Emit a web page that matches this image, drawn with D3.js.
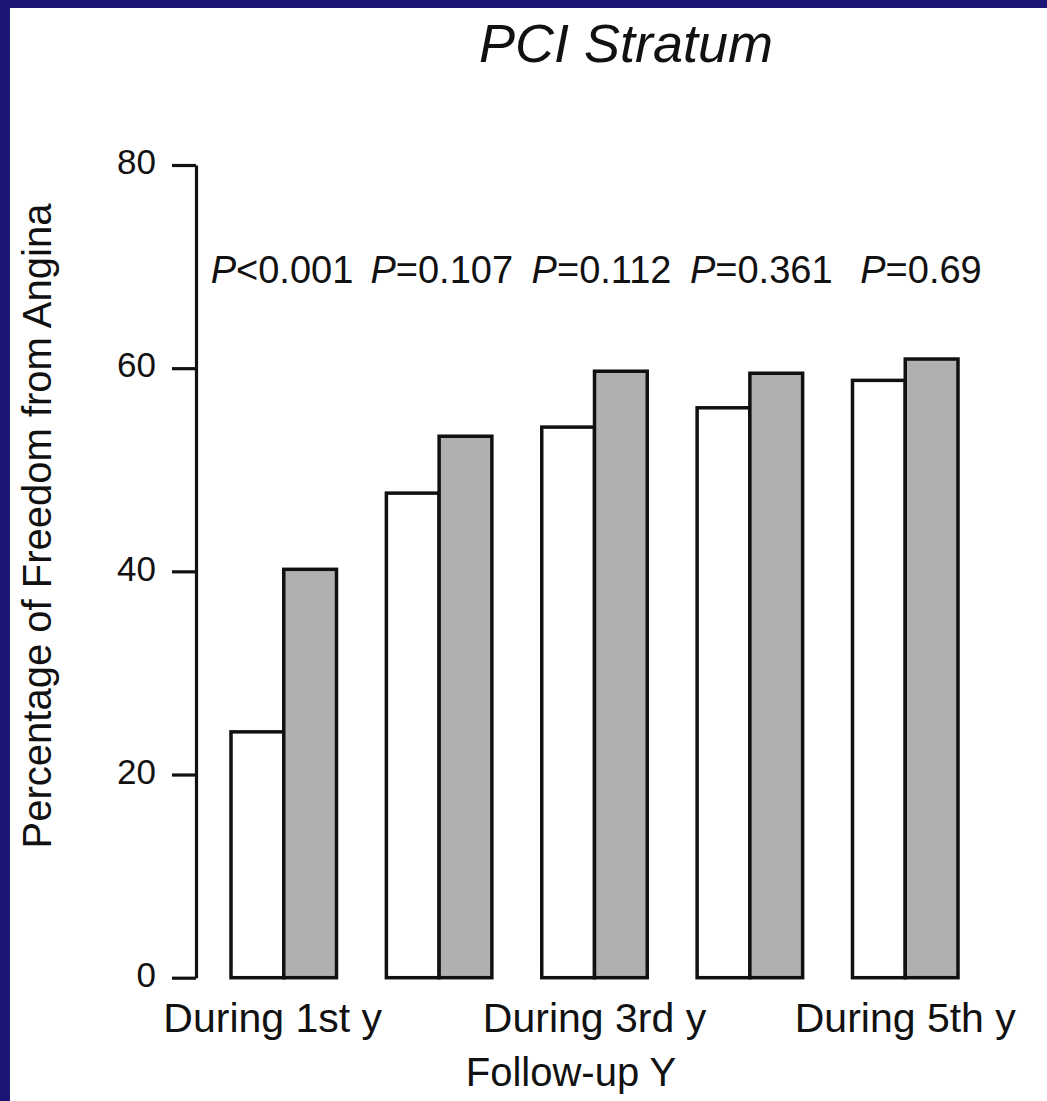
<!DOCTYPE html>
<html>
<head>
<meta charset="utf-8">
<script src="https://cdn.jsdelivr.net/npm/d3@7"></script>
<style>
  html, body { margin: 0; padding: 0; background: #ffffff; }
  svg { display: block; }
  text { font-family: "Liberation Sans", Arial, Helvetica, sans-serif; fill: #111; }
</style>
</head>
<body>
<svg id="chart" width="1047" height="1101"></svg>
<script>
// Follow-up years and the label shown under each group (blank where omitted)
const years = [1, 2, 3, 4, 5];
const yearLabels = ["During 1st y", "", "During 3rd y", "", "During 5th y"];

// Percentage free from angina, per year, for the two treatment arms
const openArm = [24.2, 47.7, 54.2, 56.1, 58.8];   // white bars
const shadedArm = [40.2, 53.3, 59.7, 59.5, 60.9]; // gray bars

// P values printed above each pair
const pLabels = [
  { rel: "<", val: "0.001" },
  { rel: "=", val: "0.107" },
  { rel: "=", val: "0.112" },
  { rel: "=", val: "0.361" },
  { rel: "=", val: "0.69" }
];

const yTicks = [0, 20, 40, 60, 80];

const svg = d3.select("#chart");
const W = 1047, H = 1101;

// navy frame along the top and left edges
svg.append("rect").attr("x", 0).attr("y", 0).attr("width", W).attr("height", H).attr("fill", "#ffffff");
svg.append("rect").attr("x", 0).attr("y", 0).attr("width", W).attr("height", 8).attr("fill", "#1b1673");
svg.append("rect").attr("x", 0).attr("y", 0).attr("width", 10).attr("height", H).attr("fill", "#1b1673");

const axisX = 196;
const y = d3.scaleLinear().domain([0, 80]).range([977.7, 165]);

const x0 = d3.scaleBand().domain(years).range([231, 958]).paddingInner(0.321).paddingOuter(0);
const x1 = d3.scaleBand().domain(["open", "shaded"]).range([0, x0.bandwidth()]).padding(0);

// annotation row above the bars
const xP = d3.scalePoint().domain(years).range([282, 921]);

// y axis
const yAxis = d3.axisLeft(y).tickValues(yTicks).tickSize(24).tickSizeOuter(0).tickPadding(16);
const gy = svg.append("g").attr("transform", `translate(${axisX},0)`).call(yAxis);
gy.select(".domain").attr("stroke", "#111").attr("stroke-width", 3.2);
gy.selectAll(".tick line").attr("stroke", "#111").attr("stroke-width", 3.2);
gy.selectAll(".tick text")
  .attr("font-size", 35)
  .attr("font-family", "'Liberation Sans', Arial, Helvetica, sans-serif")
  .attr("fill", "#111")
  .attr("dy", "0.25em");

// bars
const groups = svg.append("g").selectAll("g")
  .data(years.map((yr, i) => ({ yr, open: openArm[i], shaded: shadedArm[i] })))
  .join("g")
  .attr("transform", d => `translate(${x0(d.yr)},0)`);

groups.selectAll("rect")
  .data(d => [{ key: "open", v: d.open }, { key: "shaded", v: d.shaded }])
  .join("rect")
  .attr("x", d => x1(d.key))
  .attr("y", d => y(d.v))
  .attr("width", x1.bandwidth())
  .attr("height", d => y(0) - y(d.v))
  .attr("fill", d => d.key === "open" ? "#ffffff" : "#b0b0b0")
  .attr("stroke", "#111")
  .attr("stroke-width", 3.5);

// category labels
svg.append("g").selectAll("text")
  .data(years.map((yr, i) => ({ yr, label: yearLabels[i] })).filter(d => d.label))
  .join("text")
  .attr("x", d => x0(d.yr) + x0.bandwidth() / 2 - (d.yr === 1 ? 11 : 0))
  .attr("y", 1032)
  .attr("text-anchor", "middle")
  .attr("font-size", 41)
  .text(d => d.label);

// P value annotations
const pt = svg.append("g").selectAll("text")
  .data(years.map((yr, i) => ({ yr, p: pLabels[i] })))
  .join("text")
  .attr("x", d => xP(d.yr))
  .attr("y", 283)
  .attr("text-anchor", "middle")
  .attr("font-size", 38);
pt.append("tspan").attr("font-style", "italic").text("P");
pt.append("tspan").text(d => d.p.rel + d.p.val);

// axis titles
svg.append("text")
  .attr("x", 571)
  .attr("y", 1086)
  .attr("text-anchor", "middle")
  .attr("font-size", 40)
  .text("Follow-up Y");

svg.append("text")
  .attr("transform", "translate(51,526) rotate(-90)")
  .attr("text-anchor", "middle")
  .attr("font-size", 40)
  .text("Percentage of Freedom from Angina");

// chart title
svg.append("text")
  .attr("x", 626)
  .attr("y", 62)
  .attr("text-anchor", "middle")
  .attr("font-size", 54)
  .attr("font-style", "italic")
  .text("PCI Stratum");
</script>
</body>
</html>
